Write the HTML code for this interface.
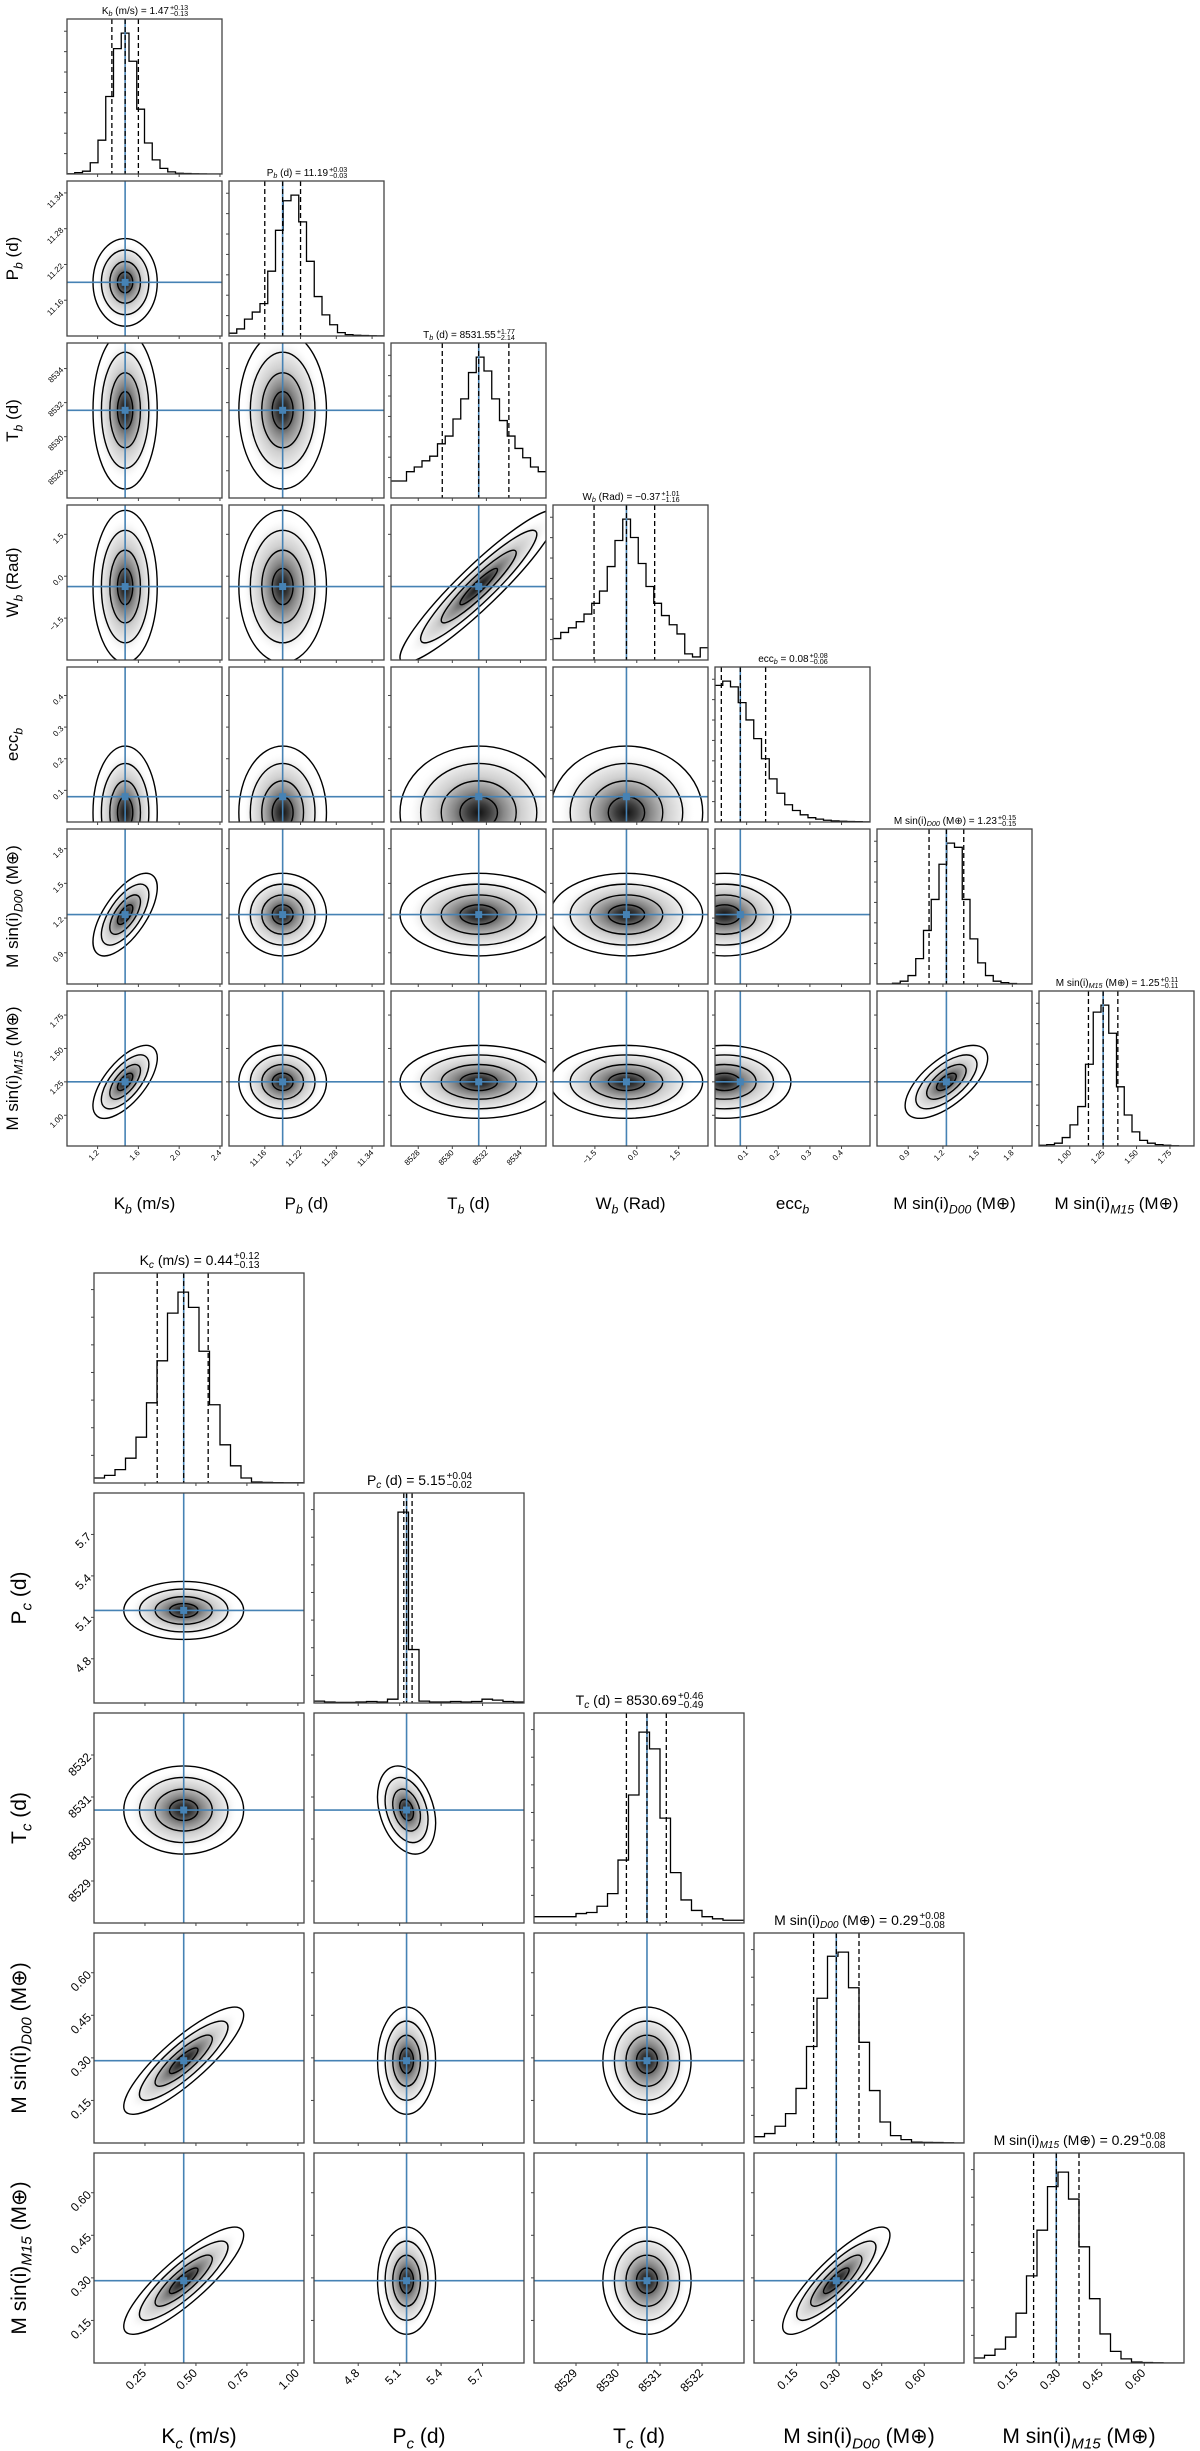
<!DOCTYPE html>
<html><head><meta charset="utf-8"><title>Corner plots</title>
<style>
html,body{margin:0;padding:0;background:#fff;}
svg{display:block;font-family:"Liberation Sans","DejaVu Sans",sans-serif;}
</style></head>
<body>
<svg id="fig" width="1200" height="2451" viewBox="0 0 1200 2451" xmlns="http://www.w3.org/2000/svg">
<defs>
<radialGradient id="dens" cx="0.5" cy="0.5" r="0.5">
<stop offset="0" stop-color="#111"/>
<stop offset="0.15" stop-color="#3a3a3a"/>
<stop offset="0.35" stop-color="#888"/>
<stop offset="0.6" stop-color="#d0d0d0"/>
<stop offset="0.85" stop-color="#f2f2f2"/>
<stop offset="1" stop-color="#fff" stop-opacity="0"/>
</radialGradient>
</defs>
</svg>
<script>
// ===== top corner data (planet b) =====
const topNames=[["K","b"," (m/s)"],["P","b"," (d)"],["T","b"," (d)"],["W","b"," (Rad)"],["ecc","b",""],["M sin(i)","D00"," (M⊕)"],["M sin(i)","M15"," (M⊕)"]];
const topMedians=[1.47,11.19,8531.55,-0.37,0.08,1.23,1.25];
const topModes=[1.47,11.19,8531.55,-0.37,0.03,1.23,1.25];
const topMedianLabels=["1.47","11.19","8531.55","−0.37","0.08","1.23","1.25"];
const topErrPlus=[0.13,0.03,1.77,1.01,0.08,0.15,0.11];
const topErrMinus=[0.13,0.03,2.14,1.16,0.06,0.15,0.11];
const topPlusLabels=["0.13","0.03","1.77","1.01","0.08","0.15","0.11"];
const topMinusLabels=["0.13","0.03","2.14","1.16","0.06","0.15","0.11"];
const topRangeMin=[0.9,11.10,8526.4,-3.0,0.0,0.63,0.77];
const topRangeMax=[2.42,11.36,8535.5,2.55,0.49,1.97,1.93];
const topTicks=[[1.2,1.6,2.0,2.4],[11.16,11.22,11.28,11.34],[8528,8530,8532,8534],[-1.5,0,1.5],[0.1,0.2,0.3,0.4],[0.9,1.2,1.5,1.8],[1.0,1.25,1.5,1.75]];
const topTickLabels=[["1.2","1.6","2.0","2.4"],["11.16","11.22","11.28","11.34"],["8528","8530","8532","8534"],["−1.5","0.0","1.5"],["0.1","0.2","0.3","0.4"],["0.9","1.2","1.5","1.8"],["1.00","1.25","1.50","1.75"]];
const topSigma=[0.15,0.035,2.2,1.3,0.1,0.17,0.13];
const histKb=[0.2,1,2,8,24,55,89,100,80,46,22,10,4,1.5,0.5,0.3,0.2,0.1,0,0];
const histPb=[2,5,12,17,23,46,75,96,100,81,53,28,15,8,2.4,1,0.5,0.3,0.2,0.1];
const histTb=[11,11,17,20,24,27,35,40,51,64,81,91,82,64,50,40,32,26,20,17];
const histWb=[14,18,21,25,30,37,45,61,78,92,80,63,48,37,29,23,17,4,2,8];
const histEcc=[95,98,94,83,71,58,44,30,20,12,8,5,3,2,1.2,0.8,0.5,0.3,0.2,0.1];
const histMDb=[0,0,0.5,2,6,18,38,60,85,100,97,60,32,15,6,2,1,0.3,0,0];
const histMMb=[0.5,1,2,6,15,28,58,95,100,80,42,22,10,4,2,1,0.5,0.2,0,0];
const topCorr=[["0-5",0.65],["0-6",0.65],["5-6",0.65],["2-3",0.93]];

// ===== bottom corner data (planet c) =====
const botNames=[["K","c"," (m/s)"],["P","c"," (d)"],["T","c"," (d)"],["M sin(i)","D00"," (M⊕)"],["M sin(i)","M15"," (M⊕)"]];
const botMedians=[0.44,5.15,8530.69,0.29,0.29];
const botModes=[0.44,5.15,8530.69,0.29,0.29];
const botMedianLabels=["0.44","5.15","8530.69","0.29","0.29"];
const botErrPlus=[0.12,0.04,0.46,0.08,0.08];
const botErrMinus=[0.13,0.02,0.49,0.08,0.08];
const botPlusLabels=["0.12","0.04","0.46","0.08","0.08"];
const botMinusLabels=["0.13","0.02","0.49","0.08","0.08"];
const botRangeMin=[0.0,4.48,8528.0,0.0,0.0];
const botRangeMax=[1.03,6.0,8533.0,0.74,0.74];
const botTicks=[[0.25,0.5,0.75,1.0],[4.8,5.1,5.4,5.7],[8529,8530,8531,8532],[0.15,0.3,0.45,0.6],[0.15,0.3,0.45,0.6]];
const botTickLabels=[["0.25","0.50","0.75","1.00"],["4.8","5.1","5.4","5.7"],["8529","8530","8531","8532"],["0.15","0.30","0.45","0.60"],["0.15","0.30","0.45","0.60"]];
const botSigma=[0.14,0.1,0.5,0.09,0.09];
const histKc=[2.6,4,7,13,24,42,64,89,100,92,69,41,20,9,2.6,0.5,0.3,0.2,0.1,0.1];
const histPc=[1,0.5,0.3,0.3,0.5,0.8,0.5,2,100,28,1,0.5,0.5,0.8,0.5,0.8,2,1.5,0.8,0.5];
const histTc=[3,3,3,3,4.5,5,8,14,30,61,91,83,50,24,11,6,3,2,1.3,1.3];
const histMDc=[3,4.5,8,14,26,46,69,89,91,74,48,25,10,3.5,1.6,0.4,0.3,0.2,0.1,0];
const histMMc=[2.4,3.7,6.7,12.5,24,42,64,85,92,79,56,31,14,5.6,2,0.5,0.2,0.1,0,0];
const botCorr=[["0-3",0.85],["0-4",0.85],["3-4",0.85],["1-2",-0.3]];

const topHists=[histKb,histPb,histTb,histWb,histEcc,histMDb,histMMb];
const botHists=[histKc,histPc,histTc,histMDc,histMMc];

const NS="http://www.w3.org/2000/svg";
const svg=document.getElementById('fig');
function mk(tag,attrs,parent){const e=document.createElementNS(NS,tag);for(const k in attrs)e.setAttribute(k,attrs[k]);(parent||svg).appendChild(e);return e;}
const BLUE="#4682b4";
let clipId=0;

function labelText(parent,x,y,name,size,anchor,rot){
  const t=mk('text',{x:x,y:y,'font-size':size,'text-anchor':anchor||'middle',fill:'#000'},parent);
  if(rot)t.setAttribute('transform','rotate('+rot+' '+x+' '+y+')');
  const a=mk('tspan',{},t);a.textContent=name[0];
  const b=mk('tspan',{'font-size':size*0.72,'font-style':'italic',dy:size*0.25},t);b.textContent=name[1];
  const c=mk('tspan',{dy:-size*0.25},t);c.textContent=name[2];
  return t;
}

function drawCorner(cfg){
  const n=cfg.names.length;
  const gAll=mk('g',{});
  
  
  const corr={};cfg.corr.forEach(c=>corr[c[0]]=c[1]);
  const X=(i,v)=>cfg.x0+cfg.pitch*i+(v-cfg.rmin[i])/(cfg.rmax[i]-cfg.rmin[i])*cfg.size;
  const Y=(j,v)=>cfg.y0+cfg.pitch*j+cfg.size-(v-cfg.rmin[j])/(cfg.rmax[j]-cfg.rmin[j])*cfg.size;
  for(let j=0;j<n;j++){for(let i=0;i<=j;i++){
    const px=cfg.x0+cfg.pitch*i,py=cfg.y0+cfg.pitch*j,S=cfg.size;
    const g=mk('g',{},gAll);
    
    
    const cid='clip'+(clipId++);
    const cp=mk('clipPath',{id:cid},g);mk('rect',{x:px,y:py,width:S,height:S},cp);
    const inner=mk('g',{'clip-path':'url(#'+cid+')'},g);
    if(i===j){
      const h=cfg.hists[i];const mx=Math.max(...h)*1.1;const nb=h.length;
      const bw=(cfg.rmax[i]-cfg.rmin[i])/nb;
      let d='';
      for(let k=0;k<nb;k++){
        const xa=X(i,cfg.rmin[i]+k*bw),xb=X(i,cfg.rmin[i]+(k+1)*bw);
        const yy=py+S-h[k]/mx*S;
        d+=(k===0?'M'+xa+','+yy:'L'+xa+','+yy)+'L'+xb+','+yy;
      }
      const hp=mk('path',{d:d,fill:'none',stroke:'#000','stroke-width':1.3},inner);
      
      
      const qs=[cfg.med[i]-cfg.em[i],cfg.med[i],cfg.med[i]+cfg.ep[i]];
      const bl=mk('line',{x1:X(i,cfg.med[i]),x2:X(i,cfg.med[i]),y1:py,y2:py+S,stroke:BLUE,'stroke-width':1.6},inner);
      
      
      qs.forEach(q=>{
        const l=mk('line',{x1:X(i,q),x2:X(i,q),y1:py,y2:py+S,stroke:'#000','stroke-width':1.3,'stroke-dasharray':'5,3'},inner);
        
        
      });
      for(let k=1;k<=7;k++){const yy=py+S-k*S/7.6;mk('line',{x1:px,x2:px-3,y1:yy,y2:yy,stroke:'#444','stroke-width':1},g);}
      const fs=cfg.titleSize;
      const t=mk('text',{x:0,y:py-cfg.titleGap,'font-size':fs,fill:'#000'},g);
      
      
      const nm=cfg.names[i];
      const a=mk('tspan',{},t);a.textContent=nm[0];
      const b=mk('tspan',{'font-size':fs*0.72,'font-style':'italic',dy:fs*0.22},t);b.textContent=nm[1];
      const c=mk('tspan',{dy:-fs*0.22},t);c.textContent=nm[2]+' = '+cfg.medLab[i];
      const w=t.getComputedTextLength();
      const sup=mk('text',{'font-size':fs*0.72,fill:'#000',y:py-cfg.titleGap-fs*0.42},g);sup.textContent='+'+cfg.pl[i];
      const sub=mk('text',{'font-size':fs*0.72,fill:'#000',y:py-cfg.titleGap+fs*0.22},g);sub.textContent='−'+cfg.ml[i];
      const ws=Math.max(sup.getComputedTextLength(),sub.getComputedTextLength());
      let x0=px+S/2-(w+ws)/2;
      if(x0+w+ws>1199)x0=1199-w-ws;
      if(i===0 && x0<2)x0=2;
      t.setAttribute('x',x0);sup.setAttribute('x',x0+w+1);sub.setAttribute('x',x0+w+1);
    } else {
      const sx=cfg.sig[i]/(cfg.rmax[i]-cfg.rmin[i])*S, sy=cfg.sig[j]/(cfg.rmax[j]-cfg.rmin[j])*S;
      const rho=corr[i+'-'+j]||0;
      const A=sx*sx,B=sy*sy,C=-rho*sx*sy;
      const th=0.5*Math.atan2(2*C,A-B);
      const m=(A+B)/2,dd=Math.sqrt(((A-B)/2)**2+C*C);
      const r1=Math.sqrt(m+dd),r2=Math.sqrt(Math.max(m-dd,0.5));
      const cx=X(i,cfg.mode[i]),cy=Y(j,cfg.mode[j]);
      const tx=X(i,cfg.med[i]),ty=Y(j,cfg.med[j]);
      const tr='rotate('+(th*180/Math.PI)+' '+cx+' '+cy+')';
      const de=mk('ellipse',{cx:cx,cy:cy,rx:r1*1.9,ry:r2*1.9,fill:'url(#dens)',transform:tr},inner);
      
      
      [0.5,1.0,1.55,2.1].forEach(k=>{
        const e=mk('ellipse',{cx:cx,cy:cy,rx:r1*k,ry:r2*k,fill:'none',stroke:'#000','stroke-width':1.4,transform:tr},inner);
        
        
      });
      const v=mk('line',{x1:tx,x2:tx,y1:py,y2:py+S,stroke:BLUE,'stroke-width':1.6},inner);
      
      
      const hz=mk('line',{x1:px,x2:px+S,y1:ty,y2:ty,stroke:BLUE,'stroke-width':1.6},inner);
      
      
      const mkr=mk('rect',{x:tx-3.5,y:ty-3.5,width:7,height:7,fill:BLUE},inner);
      
      
      cfg.ticks[j].forEach((tv,k)=>{
        const yy=Y(j,tv);if(yy<py||yy>py+S)return;
        mk('line',{x1:px,x2:px-3,y1:yy,y2:yy,stroke:'#444','stroke-width':1},g);
        if(i===0){
          const tl=mk('text',{x:px-5,y:yy+cfg.tickSize*0.35,'font-size':cfg.tickSize,'text-anchor':'end',fill:'#000',transform:'rotate(-45 '+(px-5)+' '+(yy)+')'},g);
          tl.textContent=cfg.tickLab[j][k];
        }
      });
    }
    mk('rect',{x:px,y:py,width:S,height:S,fill:'none',stroke:'#444','stroke-width':1.3},g);
    cfg.ticks[i].forEach((tv,k)=>{
      const xx=X(i,tv);if(xx<px-0.5||xx>px+S+0.5)return;
      mk('line',{x1:xx,x2:xx,y1:py+S,y2:py+S+3,stroke:'#444','stroke-width':1},g);
      if(j===n-1){
        const ty=py+S+cfg.tickSize*0.9;
        const tl=mk('text',{x:xx+2,y:ty,'font-size':cfg.tickSize,'text-anchor':'end',fill:'#000',transform:'rotate(-45 '+(xx+2)+' '+ty+')'},g);
        tl.textContent=cfg.tickLab[i][k];
      }
    });
    if(j===n-1){
      const al=labelText(gAll,px+S/2,cfg.xlabY,cfg.names[i],cfg.labSize,'middle',0);
      
      
    }
    if(i===0&&j>0){
      const yl=labelText(gAll,cfg.ylabX,py+S/2,cfg.names[j],cfg.labSize,'middle',-90);
      
      
    }
  }}
}

drawCorner({prefix:'planet-b',names:topNames,med:topMedians,mode:topModes,medLab:topMedianLabels,ep:topErrPlus,em:topErrMinus,pl:topPlusLabels,ml:topMinusLabels,
  rmin:topRangeMin,rmax:topRangeMax,ticks:topTicks,tickLab:topTickLabels,sig:topSigma,hists:topHists,corr:topCorr,
  x0:67,y0:19,pitch:162,size:155,titleSize:10,titleGap:5,tickSize:8,labSize:17,xlabY:1209,ylabX:18});
drawCorner({prefix:'planet-c',names:botNames,med:botMedians,mode:botModes,medLab:botMedianLabels,ep:botErrPlus,em:botErrMinus,pl:botPlusLabels,ml:botMinusLabels,
  rmin:botRangeMin,rmax:botRangeMax,ticks:botTicks,tickLab:botTickLabels,sig:botSigma,hists:botHists,corr:botCorr,
  x0:94,y0:1273,pitch:220,size:210,titleSize:14,titleGap:8,tickSize:12,labSize:21,xlabY:2443,ylabX:26});
</script>
</body></html>
